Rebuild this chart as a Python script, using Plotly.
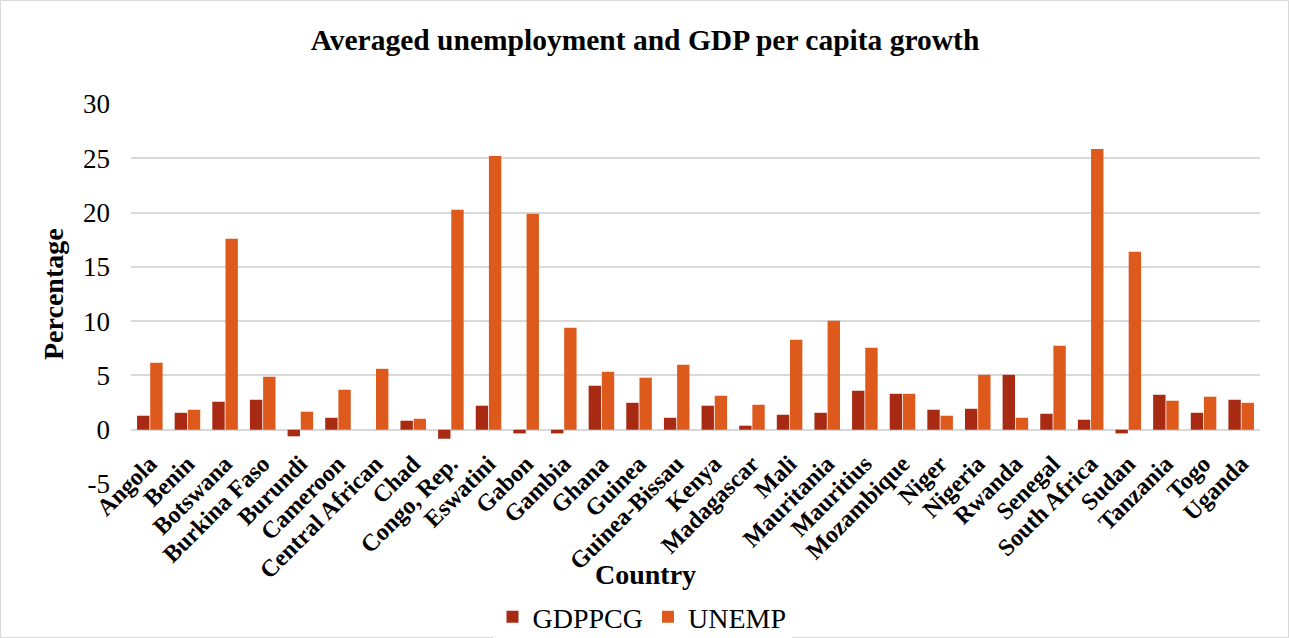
import plotly.graph_objects as go

countries = ["Angola", "Benin", "Botswana", "Burkina Faso", "Burundi", "Cameroon",
             "Central African", "Chad", "Congo, Rep.", "Eswatini", "Gabon", "Gambia",
             "Ghana", "Guinea", "Guinea-Bissau", "Kenya", "Madagascar", "Mali",
             "Mauritania", "Mauritius", "Mozambique", "Niger", "Nigeria", "Rwanda",
             "Senegal", "South Africa", "Sudan", "Tanzania", "Togo", "Uganda"]
gdppcg = [1.29, 1.56, 2.58, 2.76, -0.61, 1.10, 0.0, 0.83, -0.83, 2.21, -0.34, -0.34,
          4.05, 2.48, 1.10, 2.21, 0.37, 1.38, 1.56, 3.59, 3.31, 1.84, 1.93, 5.06,
          1.47, 0.92, -0.34, 3.22, 1.56, 2.76]
unemp = [6.17, 1.84, 17.58, 4.88, 1.66, 3.68, 5.61, 1.01, 20.25, 25.2, 19.88, 9.39,
         5.34, 4.79, 5.98, 3.13, 2.30, 8.28, 10.03, 7.55, 3.31, 1.29, 5.06, 1.10,
         7.73, 25.86, 16.38, 2.67, 3.04, 2.48]
y_ticks = [-5, 0, 5, 10, 15, 20, 25, 30]
y_ticktext = ["-5", "0", "5", "10", "15", "20", "25", "30"]

W, H = 1289, 638
L, R, T, B = 131, 29, 104, 154
pw, ph = W - L - R, H - T - B

def px_x(p):
    return (p - L) / pw

def px_y(p):
    return (H - B - p) / ph

font = "Liberation Serif"

fig = go.Figure()
fig.add_trace(go.Bar(x=countries, y=gdppcg, name="GDPPCG",
                     marker=dict(color="#A82A12", line=dict(width=0))))
fig.add_trace(go.Bar(x=countries, y=unemp, name="UNEMP",
                     marker=dict(color="#DE5A1C", line=dict(width=0))))

fig.update_layout(
    width=W, height=H,
    margin=dict(l=L, r=R, t=T, b=B, autoexpand=False),
    paper_bgcolor="white", plot_bgcolor="white",
    font=dict(family=font, color="black"),
    barmode="group", bargap=0.3, bargroupgap=0.06,
    title=dict(text="<b>Averaged unemployment and GDP per capita growth</b>",
               x=645 / W, xanchor="center", y=1 - 40 / H, yanchor="middle",
               font=dict(size=29.5, family=font)),
    legend=dict(orientation="h", x=px_x(642), xanchor="center",
                y=px_y(617), yanchor="middle",
                font=dict(size=28, family=font), itemwidth=30,
                traceorder="normal"),
    showlegend=True,
)
fig.update_yaxes(range=[-5, 30], tickvals=y_ticks, ticktext=y_ticktext,
                 showgrid=True,
                 gridcolor="#D9D9D9", gridwidth=1.5, zeroline=True,
                 zerolinecolor="#D9D9D9", zerolinewidth=1.5,
                 tickfont=dict(size=27, family=font), ticks="",
                 ticklabelstandoff=20, showline=False)
fig.update_xaxes(tickangle=-45, tickfont=dict(size=24, family=font),
                 showline=False, ticks="", showgrid=False,
                 tickprefix="<b>", ticksuffix="</b>", ticklabelstandoff=-40)

fig.add_annotation(text="<b>Country</b>", xref="paper", yref="paper",
                   x=px_x(645), y=px_y(574), xanchor="center", yanchor="middle",
                   showarrow=False, font=dict(size=28, family=font))
fig.add_annotation(text="<b>Percentage</b>", xref="paper", yref="paper",
                   x=px_x(53), y=px_y(294), xanchor="center", yanchor="middle",
                   textangle=-90, showarrow=False, font=dict(size=28, family=font))
fig.add_shape(type="rect", xref="paper", yref="paper",
              x0=px_x(0.5), x1=px_x(W - 0.5), y0=px_y(H - 0.5), y1=px_y(0.5),
              line=dict(color="#D9D9D9", width=1), layer="below")

fig.write_html("out.html")
